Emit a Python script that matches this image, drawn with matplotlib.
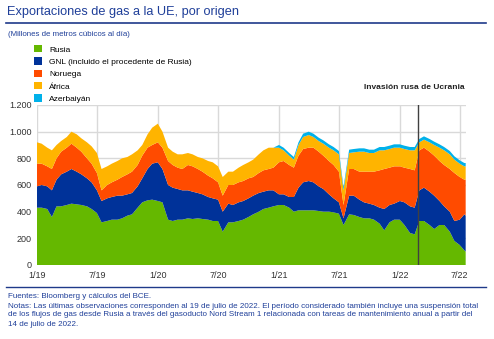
# Exportaciones de gas a la UE, por origen (BCE)
import pandas as pd
import matplotlib
matplotlib.use('Agg')
import matplotlib.pyplot as plt
from matplotlib.patches import Patch
from matplotlib.lines import Line2D

plt.rcParams['font.family'] = ['Liberation Sans', 'DejaVu Sans']

# --- Data (millones de m3 al dia, lecturas quincenales aproximadas) ---
dates = list(pd.date_range('2019-01-01', '2022-07-15', freq='SMS')) + [pd.Timestamp('2022-07-19')]

russia = [430, 430, 420, 360, 440, 440, 450, 460, 455, 450, 440, 420, 390, 320, 330, 340, 340, 350, 370, 380, 430, 470, 485, 490,
          480, 470, 340, 330, 340, 340, 350, 345, 350, 345, 340, 330, 330, 250, 320, 320, 330, 340, 360, 380, 400, 420, 430, 440,
          450, 450, 430, 400, 410, 410, 410, 410, 405, 400, 400, 395, 385, 300, 380, 375, 360, 350, 350, 340, 310, 260, 320, 340,
          340, 300, 240, 230, 330, 330, 300, 270, 300, 300, 250, 180, 150, 110, 100]

gnl = [160, 170, 170, 200, 200, 240, 250, 260, 245, 230, 210, 200, 170, 160, 170, 170, 180, 170, 160, 160, 160, 180, 235, 270,
       290, 250, 260, 250, 230, 220, 210, 205, 190, 185, 170, 170, 160, 150, 140, 130, 140, 140, 140, 140, 140, 130, 130, 120,
       80, 80, 80, 110, 170, 210, 220, 210, 185, 170, 130, 105, 85, 50, 140, 145, 130, 120, 110, 110, 120, 160, 130, 120,
       140, 170, 200, 200, 230, 250, 250, 250, 180, 140, 150, 150, 190, 270, 270]

noruega = [170, 160, 150, 160, 160, 170, 180, 190, 180, 170, 150, 140, 130, 80, 100, 110, 120, 140, 150, 160, 160, 170, 160, 140,
           150, 160, 180, 170, 160, 160, 190, 190, 180, 170, 160, 150, 130, 120, 140, 150, 150, 150, 150, 140, 150, 160, 160, 170,
           240, 250, 240, 220, 240, 250, 250, 260, 260, 250, 250, 250, 230, 100, 200, 200, 210, 230, 240, 250, 280, 300, 280, 280,
           260, 260, 280, 280, 300, 300, 300, 300, 300, 310, 320, 360, 320, 260, 270]

africa = [160, 150, 140, 140, 100, 80, 80, 90, 100, 100, 120, 130, 150, 160, 140, 140, 140, 140, 130, 130, 110, 80, 100, 130,
          140, 120, 100, 100, 100, 110, 90, 90, 90, 100, 110, 120, 120, 140, 100, 100, 110, 120, 120, 130, 140, 150, 160, 150,
          110, 80, 70, 60, 80, 90, 95, 80, 80, 90, 100, 110, 130, 110, 120, 125, 150, 150, 140, 140, 150, 140, 140, 140,
          140, 140, 140, 150, 60, 60, 70, 80, 100, 110, 110, 100, 100, 100, 100]

azerbaiyan = [0] * 48 + [20, 20, 20, 20, 20, 25, 25, 25, 25, 25, 25, 25, 25, 25, 25, 25, 25, 25, 25, 25, 25, 25, 25, 25,
                         25, 25, 25, 25, 25, 25, 25, 25, 25, 25, 25, 25, 25, 25, 25]

labels = ['Rusia', 'GNL (incluido el procedente de Rusia)', 'Noruega', 'África', 'Azerbaiyán']
colors = ['#65b800', '#003299', '#ff4b00', '#ffb400', '#00b1ea']

tick_dates = pd.date_range('2019-01-01', '2022-07-01', freq='6MS')
tick_labels = ['1/19', '7/19', '1/20', '7/20', '1/21', '7/21', '1/22', '7/22']
y_ticks = [0, 200, 400, 600, 800, 1000, 1200]
y_labels = ['0', '200', '400', '600', '800', '1.000', '1.200']
invasion = pd.Timestamp('2022-02-24')

blue_txt = '#1f3f99'

# --- Figure ---
fig = plt.figure(figsize=(4.94, 3.39), dpi=100)
ax = fig.add_axes([37 / 494, 1 - 265 / 339, 429 / 494, 160 / 339])

ax.stackplot(dates, russia, gnl, noruega, africa, azerbaiyan, colors=colors, linewidth=0)
ax.axvline(invasion, color='#404040', lw=1.0)

ax.set_xlim(pd.Timestamp('2019-01-01'), pd.Timestamp('2022-07-20'))
ax.set_ylim(0, 1200)
ax.set_xticks(tick_dates)
ax.set_xticklabels(tick_labels)
ax.set_yticks(y_ticks)
ax.set_yticklabels(y_labels)
ax.tick_params(length=0, labelsize=6.5, colors='#333333', pad=4)
ax.grid(True, color='#d9d9d9', lw=1.0)
ax.set_axisbelow(True)
for s in ax.spines.values():
    s.set_visible(False)

ax.text(0.997, 1.11, 'Invasión rusa de Ucrania', transform=ax.transAxes, ha='right', va='center',
        fontsize=6, fontweight='bold', color='#222222')

# title + rules
fig.text(7 / 494, 1 - 12 / 339, 'Exportaciones de gas a la UE, por origen', fontsize=9.2,
         color=blue_txt, va='center', ha='left')
fig.add_artist(Line2D([6 / 494, 486 / 494], [1 - 23 / 339] * 2, color='#1f3a8a', lw=1.2))
fig.text(8 / 494, 1 - 34 / 339, '(Millones de metros cúbicos al día)', fontsize=5.7,
         color=blue_txt, va='center', ha='left')

handles = [Patch(facecolor=c, edgecolor='none') for c in colors]
fig.legend(handles, labels, loc='upper left', bbox_to_anchor=(34 / 494, 1 - 45 / 339), frameon=False,
           fontsize=6, handlelength=1.0, handleheight=1.0, handletextpad=0.8, labelspacing=0.45,
           borderpad=0, borderaxespad=0)

# footnote
fig.add_artist(Line2D([6 / 494, 486 / 494], [1 - 287 / 339] * 2, color='#1f3a8a', lw=1.0))
notes = ['Fuentes: Bloomberg y cálculos del BCE.',
         'Notas: Las últimas observaciones corresponden al 19 de julio de 2022. El período considerado también incluye una suspensión total',
         'de los flujos de gas desde Rusia a través del gasoducto Nord Stream 1 relacionada con tareas de mantenimiento anual a partir del',
         '14 de julio de 2022.']
for i, line in enumerate(notes):
    fig.text(8 / 494, 1 - (297 + 9 * i) / 339, line, fontsize=5.75, color=blue_txt, va='center', ha='left')

fig.savefig('out.png', dpi=100)
